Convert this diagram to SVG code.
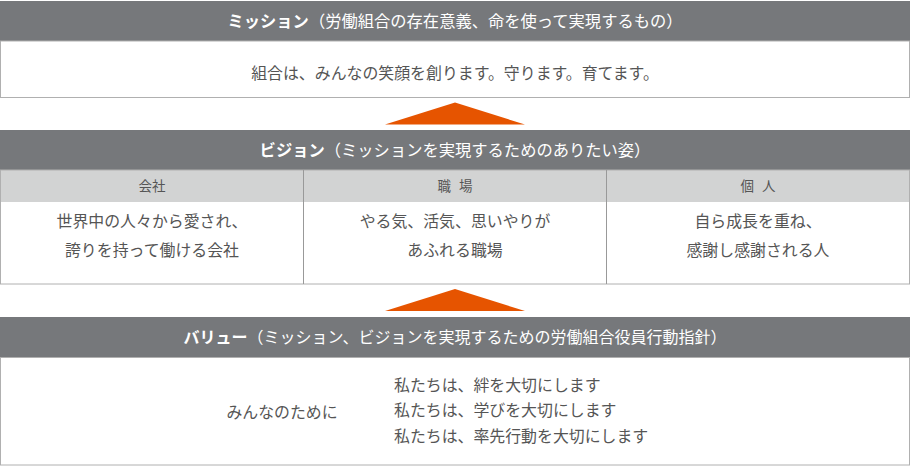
<svg xmlns="http://www.w3.org/2000/svg" width="910" height="466" viewBox="0 0 910 466">
<style>
text{font-family:"Noto Sans CJK JP","Noto Sans",sans-serif;}
.hd{fill:#76787b;}
.sub{fill:#d2d3d3;}
.box{fill:#fff;stroke:#b0b0b0;stroke-width:1;}
.div{stroke:#999;stroke-width:1;}
.ht{fill:#fff;font-size:16.3px;text-anchor:middle;}
.ht .b{font-weight:bold;}
.bt{fill:#555;font-size:15.9px;text-anchor:middle;}
.lt{fill:#555;font-size:15.9px;}
.ct{fill:#555;font-size:13.5px;text-anchor:middle;word-spacing:5px;}
.tri{fill:#e65400;}
</style>
<rect width="910" height="466" fill="#fff"/>
<g id="mission">
<rect class="hd" x="0" y="1" width="910" height="40"/>
<text class="ht" x="455" y="26.5"><tspan class="b">ミッション</tspan>（労働組合の存在意義、命を使って実現するもの）</text>
<rect class="box" x="0.5" y="41" width="909" height="56.5"/>
<text class="bt" x="455" y="78.5">組合は、みんなの笑顔を創ります。守ります。育てます。</text>
</g>
<g id="connectors">
<polygon class="tri" points="385,124.5 455,102.5 525,124.5"/>
<polygon class="tri" points="385,311 455,289 525,311"/>
</g>
<g id="vision">
<rect class="hd" x="0" y="130" width="910" height="40"/>
<text class="ht" x="455" y="155.5"><tspan class="b">ビジョン</tspan>（ミッションを実現するためのありたい姿）</text>
<rect class="sub" x="0.5" y="170" width="909" height="32"/>
<rect x="0.5" y="170" width="909" height="114" fill="none" stroke="#b0b0b0"/>
<line class="div" x1="303.5" y1="170" x2="303.5" y2="284"/>
<line class="div" x1="606.5" y1="170" x2="606.5" y2="284"/>
<text class="ct" x="152" y="191">会社</text>
<text class="ct" x="455" y="191">職 場</text>
<text class="ct" x="758" y="191">個 人</text>
<text class="bt" x="152" y="227">世界中の人々から愛され、</text>
<text class="bt" x="152" y="255.5">誇りを持って働ける会社</text>
<text class="bt" x="455" y="227">やる気、活気、思いやりが</text>
<text class="bt" x="455" y="255.5">あふれる職場</text>
<text class="bt" x="758" y="227">自ら成長を重ね、</text>
<text class="bt" x="758" y="255.5">感謝し感謝される人</text>
</g>
<g id="value">
<rect class="hd" x="0" y="317" width="910" height="40.5"/>
<text class="ht" x="455" y="343" style="font-size:16px"><tspan class="b">バリュー</tspan>（ミッション、ビジョンを実現するための労働組合役員行動指針）</text>
<rect class="box" x="0.5" y="357.5" width="909" height="107.5"/>
<text class="bt" x="282" y="418">みんなのために</text>
<text class="lt" x="394" y="390.5">私たちは、絆を大切にします</text>
<text class="lt" x="394" y="416">私たちは、学びを大切にします</text>
<text class="lt" x="394" y="441.5">私たちは、率先行動を大切にします</text>
</g>
</svg>
